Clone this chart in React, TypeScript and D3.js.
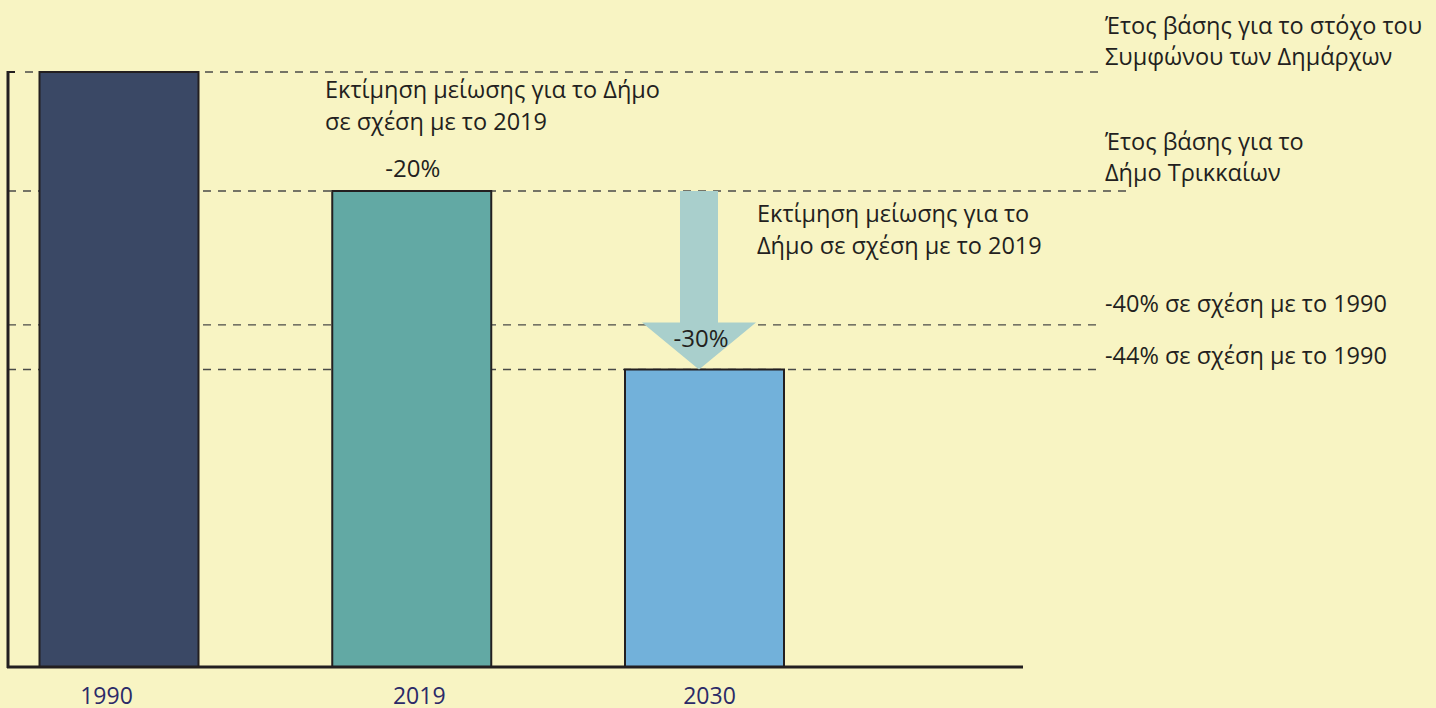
import React from "react";
import * as d3 from "d3";

const categories = ["1990", "2019", "2030"];
const values = [100, 80, 50];
const barColors = ["#3a4865", "#62a9a4", "#72b1da"];
const refLevels = [100, 80, 57.5, 50];
const barLabels = [{ cat: "2019", text: "-20%" }];
const rightNotes = [
  ["Έτος βάσης για το στόχο του", "Συμφώνου των Δημάρχων"],
  ["Έτος βάσης για το", "Δήμο Τρικκαίων"],
  ["-40% σε σχέση με το 1990"],
  ["-44% σε σχέση με το 1990"],
];
const note2019 = ["Εκτίμηση μείωσης για το Δήμο", "σε σχέση με το 2019"];
const noteArrow = ["Εκτίμηση μείωσης για το", "Δήμο σε σχέση με το 2019"];
const arrowLabel = "-30%";

const W = 1436;
const H = 708;
const FONT = "'Open Sans', 'Noto Sans', sans-serif";

export default function App() {
  const y = d3.scaleLinear().domain([0, 100]).range([667, 72]);
  const x = d3.scalePoint<string>().domain(categories).range([119, 704.5]);
  const bw = 159;
  const textColor = "#231f20";
  const fs = 23.5;

  // layout constants
  const refStarts = [25, 8, 8, 8];
  const refEnds = [1105, 1130, 1100, 1100];
  const rightNoteY = [34, 150, 312, 364];
  const yearShift = [-12.5, 7.5, 5];

  const xa = 699;
  const shaftHalf = 19;
  const headHalf = 57;
  const yTop = y(80);
  const yTip = y(50);
  const headTop = yTip - 47;
  const arrowPath = d3.path();
  arrowPath.moveTo(xa - shaftHalf, yTop);
  arrowPath.lineTo(xa + shaftHalf, yTop);
  arrowPath.lineTo(xa + shaftHalf, headTop);
  arrowPath.lineTo(xa + headHalf, headTop);
  arrowPath.lineTo(xa, yTip);
  arrowPath.lineTo(xa - headHalf, headTop);
  arrowPath.lineTo(xa - shaftHalf, headTop);
  arrowPath.closePath();

  return (
    <svg
      width={W}
      height={H}
      style={{ position: "absolute", left: 0, top: 0, background: "#f8f4c3" }}
      fontFamily={FONT}
    >
      <rect x={0} y={0} width={W} height={H} fill="#f8f4c3" />
      {refLevels.map((v, i) => (
        <line
          key={"r" + i}
          x1={refStarts[i]}
          x2={refEnds[i]}
          y1={y(v)}
          y2={y(v)}
          stroke="#4a4a48"
          strokeWidth={1.3}
          strokeDasharray="8 7"
        />
      ))}
      {categories.map((c, i) => (
        <rect
          key={c}
          x={(x(c) as number) - bw / 2}
          y={y(values[i])}
          width={bw}
          height={y(0) - y(values[i])}
          fill={barColors[i]}
          stroke="#231f20"
          strokeWidth={2}
        />
      ))}
      <path d={arrowPath.toString()} fill="#a9cfcc" />
      <text x={xa + 2} y={yTip - 23} textAnchor="middle" fontSize={24} fill={textColor}>
        {arrowLabel}
      </text>
      {barLabels.map((b) => {
        const i = categories.indexOf(b.cat);
        return (
          <text
            key={b.cat}
            x={(x(b.cat) as number) + 1}
            y={y(values[i]) - 14}
            textAnchor="middle"
            fontSize={24}
            fill={textColor}
          >
            {b.text}
          </text>
        );
      })}
      {/* axes */}
      <line x1={8} x2={8} y1={71} y2={668} stroke="#231f20" strokeWidth={3} />
      <line x1={7} x2={15} y1={72} y2={72} stroke="#231f20" strokeWidth={2} />
      <line x1={7} x2={1023} y1={667} y2={667} stroke="#231f20" strokeWidth={3} />
      {categories.map((c, i) => (
        <text
          key={"t" + c}
          x={(x(c) as number) + yearShift[i]}
          y={703.5}
          textAnchor="middle"
          fontSize={23}
          fill="#2b2a68"
        >
          {c}
        </text>
      ))}
      {note2019.map((l, i) => (
        <text key={"n" + i} x={325} y={98 + i * 32} fontSize={fs} fill={textColor}>
          {l}
        </text>
      ))}
      {noteArrow.map((l, i) => (
        <text key={"a" + i} x={757} y={222 + i * 32} fontSize={fs} fill={textColor}>
          {l}
        </text>
      ))}
      {rightNotes.map((n, j) =>
        n.map((l, i) => (
          <text
            key={"rn" + j + "-" + i}
            x={1105}
            y={rightNoteY[j] + i * 31}
            fontSize={fs}
            fill={textColor}
          >
            {l}
          </text>
        ))
      )}
    </svg>
  );
}
